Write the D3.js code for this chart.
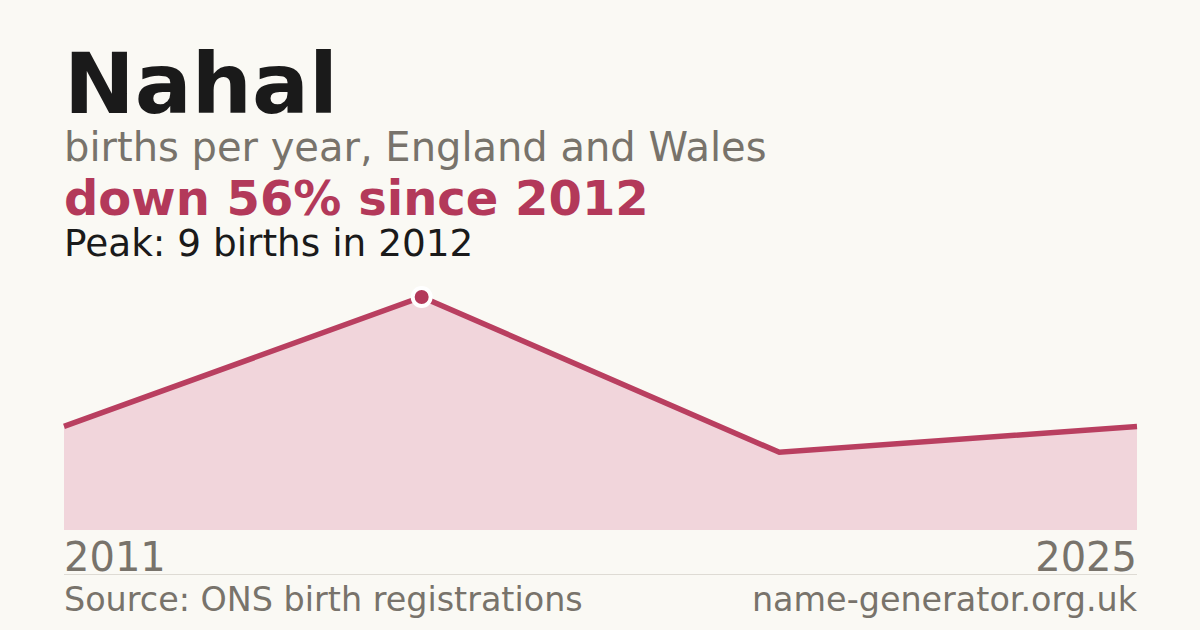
<!DOCTYPE html>
<html>
<head>
<meta charset="utf-8">
<script src="https://cdn.jsdelivr.net/npm/d3@7"></script>
<style>
  html, body { margin: 0; padding: 0; background: #faf9f4; }
  svg { display: block; }
</style>
</head>
<body>
<svg id="chart" width="1200" height="630"></svg>
<script>
const years = ["2011", "2012", "2024", "2025"];
const births = [4, 9, 3, 4];
const axisLabels = ["2011", "2025"];
const titleText = "Nahal";
const subtitleText = "births per year, England and Wales";
const changeText = "down 56% since 2012";
const peakText = "Peak: 9 births in 2012";
const sourceText = "Source: ONS birth registrations";
const siteText = "name-generator.org.uk";

(function () {
const svg = d3.select("#chart");
const W = 1200, H = 630;
const mLeft = 64, mRight = 1137, mBottom = 530, mTop = 297;
const font = "'DejaVu Sans', sans-serif";

svg.append("rect").attr("width", W).attr("height", H).attr("fill", "#faf9f4");

const data = years.map((yr, i) => ({ year: yr, v: births[i] }));

const x = d3.scalePoint().domain(years).range([mLeft, mRight]);
const y = d3.scaleLinear().domain([0, d3.max(births)]).range([mBottom, mTop]);

const area = d3.area().x(d => x(d.year)).y0(mBottom).y1(d => y(d.v));
const line = d3.line().x(d => x(d.year)).y(d => y(d.v));

svg.append("path").datum(data).attr("d", area).attr("fill", "#f1d5db");
svg.append("path").datum(data).attr("d", line)
  .attr("fill", "none").attr("stroke", "#b93f60").attr("stroke-width", 5.5)
  .attr("stroke-linejoin", "miter");

const peak = data.reduce((a, b) => (b.v > a.v ? b : a));
svg.append("circle").attr("cx", x(peak.year)).attr("cy", y(peak.v)).attr("r", 9)
  .attr("fill", "#b3395a").attr("stroke", "#ffffff").attr("stroke-width", 4);

svg.append("text").attr("x", 64).attr("y", 113).text(titleText)
  .attr("font-family", font).attr("font-weight", "bold").attr("font-size", 84.5).attr("fill", "#1a1a1a");
svg.append("text").attr("x", 64).attr("y", 161).text(subtitleText)
  .attr("font-family", font).attr("font-size", 40).attr("fill", "#78736b");
svg.append("text").attr("x", 64).attr("y", 215).text(changeText)
  .attr("font-family", font).attr("font-weight", "bold").attr("font-size", 48).attr("fill", "#b3395a");
svg.append("text").attr("x", 64).attr("y", 256).text(peakText)
  .attr("font-family", font).attr("font-size", 37.4).attr("fill", "#1a1a1a");

const xLab = d3.scalePoint().domain(axisLabels).range([mLeft, mRight]);
svg.selectAll("text.axis").data(axisLabels).enter().append("text")
  .attr("class", "axis")
  .attr("x", d => xLab(d)).attr("y", 571)
  .attr("text-anchor", (d, i) => i === 0 ? "start" : "end")
  .attr("font-family", font).attr("font-size", 40).attr("fill", "#78736b")
  .text(d => d);

svg.append("line").attr("x1", mLeft).attr("x2", mRight).attr("y1", 574.5).attr("y2", 574.5)
  .attr("stroke", "#dedbd4").attr("stroke-width", 1);

svg.append("text").attr("x", 64).attr("y", 611).text(sourceText)
  .attr("font-family", font).attr("font-size", 33.4).attr("fill", "#78736b");
svg.append("text").attr("x", mRight).attr("y", 611).attr("text-anchor", "end").text(siteText)
  .attr("font-family", font).attr("font-size", 33.4).attr("fill", "#78736b");
})();
</script>
</body>
</html>
